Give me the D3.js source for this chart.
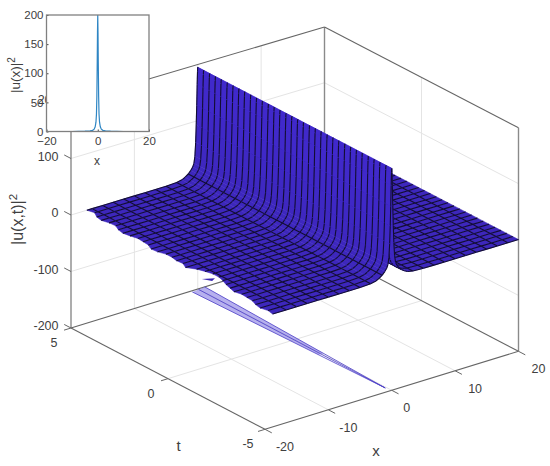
<!DOCTYPE html>
<html lang="en">

<head>
    <meta charset="UTF-8">
    <title>|u(x,t)|^2 surface</title>
    <script src="https://d3js.org/d3.v7.min.js"></script>
    <style>
        html, body { margin: 0; padding: 0; background: #fff; overflow: hidden; }
        text { font-family: "Liberation Sans", Arial, sans-serif; fill: #404040; }
    </style>
</head>

<body>
    <script>
        const width = 550;
        const height = 466;

        // tick labels
        const xTicks = [-20, -10, 0, 10, 20];
        const tTicks = [5, 0, -5];
        const zTicks = [-200, -100, 0, 100, 200];
        const insetXTicks = [-20, 0, 20];
        const insetYTicks = [0, 50, 100, 150, 200];

        // profile across the ridge, same at every t
        const xValues = [-16.67, -15, -13.33, -11.67, -10, -8.33, -6.67, -5, -3.33, -2.5, -2, -1.5, -1.1, -0.8, -0.6, -0.45, -0.33, -0.24, -0.16, -0.09, -0.04, 0,
            0.04, 0.09, 0.16, 0.24, 0.33, 0.45, 0.6, 0.8, 1.1, 1.5, 2, 2.5, 3.33, 5, 6.67, 8.33, 10, 11.67, 13.33, 15, 16.67, 18.33, 20];
        const zValues = [0, 0, 0, 0, 0, 0, 0, 0, 1, 3, 6, 10, 15, 20, 26, 38, 62, 93, 128, 165, 187, 195,
            187, 165, 128, 93, 62, 38, 26, 20, 15, 10, 6, 3, 1, 0, 0, 0, 0, 0, 0, 0, 0, 0, 0];
        // x values that carry a mesh line
        const xMesh = [-16.67, -15, -13.33, -11.67, -10, -8.33, -6.67, -5, -3.33, -1.5, 1.5, 3.33, 5, 6.67, 8.33, 10, 11.67, 13.33, 15, 16.67, 18.33];

        const tValues = [5, 4.7, 4.39, 4.09, 3.79, 3.48, 3.18, 2.88, 2.58, 2.27, 1.97, 1.67, 1.36, 1.06, 0.76, 0.45, 0.15,
            -0.15, -0.45, -0.76, -1.06, -1.36, -1.67, -1.97, -2.27, -2.58, -2.88, -3.18, -3.48, -3.79, -4.09, -4.39, -4.7, -5];
        // torn left edge of the surface, one x per t row
        const edgeX = [-17.5, -17.2, -17.8, -18.0, -17.7, -17.6, -18.1, -18.3, -18.1, -17.8, -17.9, -18.0, -18.5, -18.4, -18.0, -18.0, -18.2,
            -18.1, -18.6, -17.8, -17.4, -17.1, -17.1, -17.4, -17.8, -18.1, -18.4, -18.1, -18.2, -18.3, -18.7, -18.9, -18.6, -18.8];

        // stray sliver next to the torn edge
        const sliverX = [-19.2, -17.7, -18.55];
        const sliverT = [-1.48, -1.67, -1.8];

        // thin wedge lying on the floor
        const wedgeStartX = [-1.1, -0.55, 0, 0.55, 1.1];
        const wedgeStartT = [4.92, 4.94, 4.96, 4.98, 5];
        const wedgeFillEndX = [0.245, -0.51];
        const wedgeFillEndT = [-1.4, -1.4];
        const wedgeStrands = [0, 2, 4];
        const wedgeTipX = -0.2;
        const wedgeTipT = -4.73;

        // line of the small |u(x)|^2 plot
        const insetXValues = [-20, -10, -5, -3, -2, -1.4, -1, -0.7, -0.5, -0.35, -0.2, -0.1, 0, 0.1, 0.2, 0.35, 0.5, 0.7, 1, 1.4, 2, 3, 5, 10, 20];
        const insetYValues = [0, 0, 0.5, 1, 2, 4, 8, 16, 30, 60, 120, 170, 200, 170, 120, 60, 30, 16, 8, 4, 2, 1, 0.5, 0, 0];

        // box corners in the page
        const cornerA = [71, 328];       // x=-20, t=5
        const cornerB = [265, 429.3];    // x=-20, t=-5
        const cornerC = [518.5, 351.5];  // x=20,  t=-5
        const cornerD = [324.5, 250];    // x=20,  t=5
        const boxH = { a: 226, b: 226, c: 223.5, d: 223 }; // slight perspective

        const xScale = d3.scaleLinear().domain([-20, 20]).range([0, 1]);
        const tScale = d3.scaleLinear().domain([5, -5]).range([0, 1]);
        const zScale = d3.scaleLinear().domain([-200, 200]).range([0, 1]);
        const fillScale = d3.scaleLinear().domain([0, 195]).range(["#3d27bc", "#4029cc"]).clamp(true);

        function project(x, t, z) {
            const u = xScale(x);
            const v = tScale(t);
            const px = cornerA[0] + u * (cornerD[0] - cornerA[0]) + v * (cornerB[0] - cornerA[0]);
            const py = cornerA[1] + u * (cornerD[1] - cornerA[1]) + v * (cornerB[1] - cornerA[1]);
            const h = (1 - u) * (1 - v) * boxH.a + u * (1 - v) * boxH.d + (1 - u) * v * boxH.b + u * v * boxH.c;
            return [px, py - zScale(z) * h];
        }

        const line3 = d3.line();
        const seg = (p, q) => line3([project(...p), project(...q)]);

        const svg = d3.select("body").append("svg")
            .attr("width", width)
            .attr("height", height)
            .style("display", "block");

        // grid on floor and back walls
        const gridSegs = [];
        xTicks.slice(1, -1).forEach(x => {
            gridSegs.push([[x, 5, -200], [x, -5, -200]]);
            gridSegs.push([[x, 5, -200], [x, 5, 200]]);
        });
        tTicks.slice(1, -1).forEach(t => {
            gridSegs.push([[-20, t, -200], [20, t, -200]]);
            gridSegs.push([[20, t, -200], [20, t, 200]]);
        });
        zTicks.slice(1, -1).forEach(z => {
            gridSegs.push([[-20, 5, z], [20, 5, z]]);
            gridSegs.push([[20, 5, z], [20, -5, z]]);
        });
        svg.append("g").selectAll("path").data(gridSegs).join("path")
            .attr("d", d => seg(d[0], d[1]))
            .attr("fill", "none")
            .attr("stroke", "#e4e4e4")
            .attr("stroke-width", 1);

        // box lines
        const boxThin = [
            [[-20, 5, -200], [-20, -5, -200]],
            [[-20, -5, -200], [20, -5, -200]],
            [[-20, 5, -200], [20, 5, -200]],
            [[20, 5, -200], [20, -5, -200]],
            [[-20, 5, 200], [20, 5, 200]],
            [[20, 5, 200], [20, -5, 200]]
        ];
        const boxThick = [
            [[-20, 5, -200], [-20, 5, 200]],
            [[20, 5, -200], [20, 5, 200]],
            [[20, -5, -200], [20, -5, 200]]
        ];
        svg.append("g").selectAll("path").data(boxThick).join("path")
            .attr("d", d => seg(d[0], d[1]))
            .attr("stroke", "#8a8a8a")
            .attr("stroke-width", 1.4);
        svg.append("g").selectAll("path").data(boxThin).join("path")
            .attr("d", d => seg(d[0], d[1]))
            .attr("stroke", "#666")
            .attr("stroke-width", 1.1);

        // axis ticks
        const ticks = svg.append("g").attr("stroke", "#666").attr("stroke-width", 1);
        xTicks.forEach(x => ticks.append("path").attr("d", seg([x, -5, -200], [x, -5.35, -200])));
        tTicks.forEach(t => ticks.append("path").attr("d", seg([-20, t, -200], [-21.1, t, -200])));
        zTicks.forEach(z => ticks.append("path").attr("d", seg([-20, 5, z], [-20, 5.35, z])));

        // wedge on the floor
        const wedge = svg.append("g");
        wedge.append("path")
            .attr("d", line3(wedgeStartX.map((x, i) => project(x, wedgeStartT[i], -200))
                .concat(wedgeFillEndX.map((x, i) => project(x, wedgeFillEndT[i], -200)))) + "Z")
            .attr("fill", "#7a70e0")
            .attr("opacity", 0.55);
        wedge.selectAll("path.strand").data(wedgeStrands).join("path")
            .attr("class", "strand")
            .attr("d", d => seg([wedgeStartX[d], wedgeStartT[d], -200], [wedgeTipX, wedgeTipT, -200]))
            .attr("fill", "none")
            .attr("stroke", "#4a3cc6")
            .attr("stroke-width", 0.8);

        // surface cells, far corner first so nearer ones paint over
        const cells = [];
        for (let i = xValues.length - 2; i >= -1; i--) {
            for (let j = 0; j < tValues.length - 1; j++) {
                cells.push({ i, j });
            }
        }
        const xAt = (i, j) => i < 0 ? edgeX[j] : xValues[i];
        const zAt = i => i < 0 ? zValues[0] : zValues[i];
        const cellG = svg.append("g").selectAll("g").data(cells).join("g");
        cellG.append("path")
            .attr("d", d => {
                const x0a = xAt(d.i, d.j), x0b = xAt(d.i, d.j + 1);
                const x1 = xValues[d.i + 1];
                const z0 = zAt(d.i), z1 = zValues[d.i + 1];
                return line3([
                    project(x0a, tValues[d.j], z0),
                    project(x1, tValues[d.j], z1),
                    project(x1, tValues[d.j + 1], z1),
                    project(x0b, tValues[d.j + 1], z0)
                ]) + "Z";
            })
            .attr("fill", d => fillScale(Math.max(zAt(d.i), zValues[d.i + 1])))
            .attr("stroke", d => fillScale(Math.max(zAt(d.i), zValues[d.i + 1])))
            .attr("stroke-width", 0.5);
        cellG.append("path")
            .attr("d", d => {
                const x1 = xValues[d.i + 1];
                const z0 = zAt(d.i), z1 = zValues[d.i + 1];
                // far edges only, the next cells painted must not cover them
                let p = seg([xAt(d.i, d.j), tValues[d.j], z0], [x1, tValues[d.j], z1]);
                if (d.j === tValues.length - 2) p += seg([xAt(d.i, d.j + 1), tValues[d.j + 1], z0], [x1, tValues[d.j + 1], z1]);
                if (xMesh.includes(x1)) p += seg([x1, tValues[d.j], z1], [x1, tValues[d.j + 1], z1]);
                return p;
            })
            .attr("fill", "none")
            .attr("stroke", "#120d33")
            .attr("stroke-width", 1.1);

        svg.append("path")
            .attr("d", line3(sliverX.map((x, i) => project(x, sliverT[i], 0))) + "Z")
            .attr("fill", "#3a25b2");

        // tick labels
        const labels = svg.append("g").attr("font-size", 12.5).attr("text-anchor", "middle");
        xTicks.forEach(x => {
            const p = project(x, -5, -200);
            labels.append("text").attr("x", p[0] + (String(x).length === 1 ? 15 : 20)).attr("y", p[1] + 22).text(x);
        });
        tTicks.forEach(t => {
            const p = project(-20, t, -200);
            labels.append("text").attr("x", p[0] - 17).attr("y", p[1] + 19).text(t);
        });
        zTicks.forEach(z => {
            const p = project(-20, 5, z);
            labels.append("text").attr("x", 58.5).attr("y", p[1] + 2).attr("text-anchor", "end").text(z);
        });

        svg.append("text").attr("x", 376).attr("y", 455.5).attr("font-size", 15).attr("text-anchor", "middle").text("x");
        svg.append("text").attr("x", 178.5).attr("y", 450.5).attr("font-size", 15).attr("text-anchor", "middle").text("t");
        const zLabel = svg.append("text")
            .attr("transform", "translate(23,245) rotate(-90)")
            .attr("font-size", 16);
        zLabel.append("tspan").text("|u(x,t)|");
        zLabel.append("tspan").attr("dy", -6).attr("font-size", 11.5).text("2");

        // inset
        const inset = { left: 46.5, right: 149, top: 15, bottom: 131.5 };
        const insetX = d3.scaleLinear().domain([-20, 20]).range([inset.left, inset.right]);
        const insetY = d3.scaleLinear().domain([0, 200]).range([inset.bottom, inset.top]);
        const insetG = svg.append("g");
        insetG.append("rect")
            .attr("x", inset.left).attr("y", inset.top)
            .attr("width", inset.right - inset.left).attr("height", inset.bottom - inset.top)
            .attr("fill", "#fff");

        insetG.append("path")
            .attr("d", d3.line().x(d => insetX(d)).y((d, i) => insetY(insetYValues[i]))(insetXValues))
            .attr("fill", "none")
            .attr("stroke", "#2f86c4")
            .attr("stroke-width", 1.2);

        const axisB = insetG.append("g")
            .attr("transform", `translate(0,${inset.bottom})`)
            .call(d3.axisBottom(insetX).tickValues(insetXTicks).tickSize(-2).tickPadding(5));
        const axisL = insetG.append("g")
            .attr("transform", `translate(${inset.left},0)`)
            .call(d3.axisLeft(insetY).tickValues(insetYTicks).tickSize(-2).tickPadding(3));
        [axisB, axisL].forEach(a => {
            a.selectAll("text").attr("font-size", 11.5).style("font-family", '"Liberation Sans", Arial, sans-serif').attr("fill", "#404040");
            a.selectAll("line").attr("stroke", "#444");
            a.select(".domain").remove();
        });
        insetG.append("rect")
            .attr("x", inset.left).attr("y", inset.top)
            .attr("width", inset.right - inset.left).attr("height", inset.bottom - inset.top)
            .attr("fill", "none")
            .attr("stroke", "#808080")
            .attr("stroke-width", 1.3);
        insetG.append("text").attr("x", 97).attr("y", 165).attr("font-size", 12).attr("text-anchor", "middle").text("x");
        const insetLabel = insetG.append("text")
            .attr("transform", "translate(20,93) rotate(-90)")
            .attr("font-size", 13.5);
        insetLabel.append("tspan").text("|u(x)|");
        insetLabel.append("tspan").attr("dy", -5).attr("font-size", 10).text("2");
    </script>
</body>

</html>
